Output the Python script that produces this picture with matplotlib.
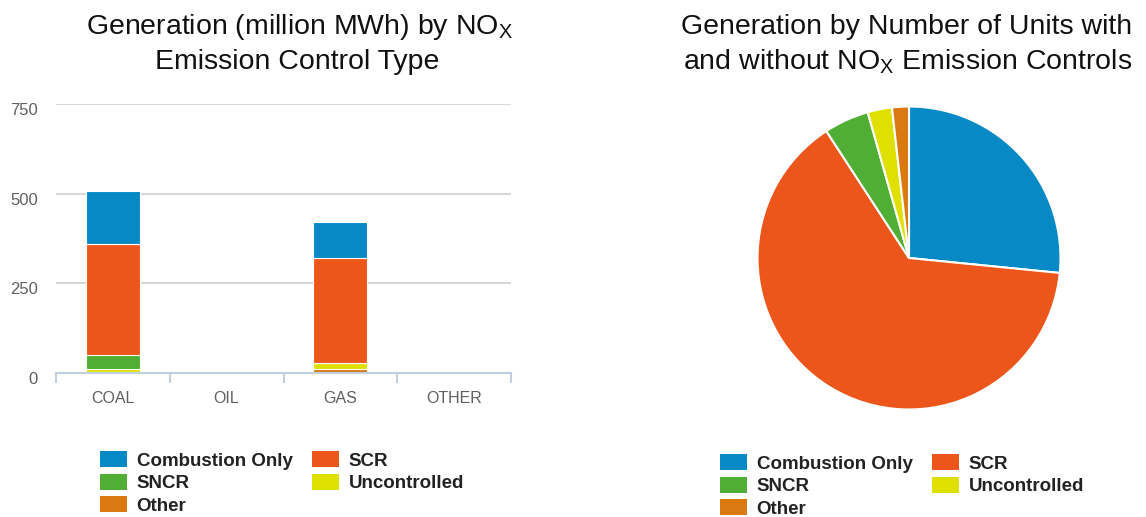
import matplotlib
matplotlib.use("Agg")
import matplotlib.pyplot as plt
from matplotlib.patches import Patch
import matplotlib.transforms as mtransforms
import numpy as np

plt.rcParams['font.family'] = ['Liberation Sans', 'DejaVu Sans']
plt.rcParams['mathtext.fontset'] = 'custom'
plt.rcParams['mathtext.rm'] = 'Liberation Sans'
plt.rcParams['mathtext.it'] = 'Liberation Sans'

# ---- data ----
categories = ["COAL", "OIL", "GAS", "OTHER"]
combustion_only = [147, 0, 100, 0]
scr = [311, 0, 293, 0]
sncr = [38, 0, 2, 0]
uncontrolled = [10, 1.5, 17, 0.8]
other = [2, 0, 10, 0.5]
y_ticks = [0, 250, 500, 750]

pie_labels = ["Combustion Only", "SCR", "SNCR", "Uncontrolled", "Other"]
pie_values = [26.6, 64.3, 4.8, 2.6, 1.8]

colors = {
    "Combustion Only": "#0789c6",
    "SCR": "#ec561b",
    "SNCR": "#4fae33",
    "Uncontrolled": "#dfe000",
    "Other": "#d9790f",
}

W, H = 1146, 517
fig = plt.figure(figsize=(W / 100, H / 100), dpi=100)

def fx(px):
    return px / W

def fy(py):
    return 1 - py / H

# ---- bar chart ----
ax = fig.add_axes([fx(56), fy(373), fx(511) - fx(56), fy(104) - fy(373)])
x = np.arange(len(categories))
stack = [("Other", other), ("Uncontrolled", uncontrolled), ("SNCR", sncr),
         ("SCR", scr), ("Combustion Only", combustion_only)]
bottom = np.zeros(len(categories))
for name, vals in stack:
    vals = np.array(vals, dtype=float)
    ax.bar(x, vals, 0.475, bottom=bottom, color=colors[name],
           edgecolor="white", linewidth=0.8, zorder=3)
    bottom += vals

ax.set_xlim(-0.5, len(categories) - 0.5)
ax.set_ylim(0, 750)
ax.set_yticks(y_ticks)
ax.set_yticklabels([str(t) for t in y_ticks])
ax.grid(axis="y", color="#d8d8d8", linewidth=1.5, zorder=0)
for s in ["top", "right", "left"]:
    ax.spines[s].set_visible(False)
ax.spines["bottom"].set_color("#c0d0e0")
ax.spines["bottom"].set_linewidth(1.5)
ax.spines["bottom"].set_zorder(4)
ax.tick_params(axis="y", length=0, pad=13, labelsize=12, labelcolor="#606060")
offset = mtransforms.ScaledTranslation(0, -5 / 100, fig.dpi_scale_trans)
for lab in ax.get_yticklabels():
    lab.set_transform(lab.get_transform() + offset)
ax.set_xticks(np.arange(-0.5, len(categories)), minor=False)
ax.set_xticklabels([""] * (len(categories) + 1))
ax.tick_params(axis="x", which="major", length=7, width=1.5, color="#c0d0e0", direction="out")
ax.set_xticks(x, minor=True)
ax.set_xticklabels(categories, minor=True)
ax.tick_params(axis="x", which="minor", length=0, pad=13, labelsize=11.5, labelcolor="#606060")

# ---- pie chart ----
r = 153
cx, cy = 909, 258
pax = fig.add_axes([fx(cx - r), fy(cy + r), fx(2 * r), fy(cy - r) - fy(cy + r)])
pax.pie(pie_values, colors=[colors[l] for l in pie_labels], startangle=90,
        counterclock=False, radius=1,
        wedgeprops=dict(edgecolor="white", linewidth=1.5))
pax.set_xlim(-1.01, 1.01)
pax.set_ylim(-1.01, 1.01)
pax.set_aspect("auto")
pax.axis("off")

# ---- titles ----
tfs = 20.5
tc = "#111111"
fig.text(fx(299), fy(34), r"Generation (million MWh) by NO$_{\mathrm{X}}$",
         ha="center", va="baseline", fontsize=tfs, color=tc)
fig.text(fx(297), fy(69), "Emission Control Type",
         ha="center", va="baseline", fontsize=tfs, color=tc)
fig.text(fx(907), fy(34), "Generation by Number of Units with",
         ha="center", va="baseline", fontsize=tfs, color=tc)
fig.text(fx(908), fy(69), r"and without NO$_{\mathrm{X}}$ Emission Controls",
         ha="center", va="baseline", fontsize=tfs, color=tc)

# ---- legends ----
order = ["Combustion Only", "SNCR", "Other", "SCR", "Uncontrolled"]
handles = [Patch(facecolor=colors[n], edgecolor="none") for n in order]

def add_legend(x0, y0):
    leg = fig.legend(handles, order, loc="upper left",
                     bbox_to_anchor=(fx(x0), fy(y0)), ncol=2, frameon=False,
                     prop=dict(weight="bold", size=13.5), handlelength=1.45,
                     handleheight=0.95, handletextpad=0.5, columnspacing=1.05,
                     labelspacing=0.22, borderpad=0, borderaxespad=0)
    for t in leg.get_texts():
        t.set_color("#222222")
    return leg

add_legend(100, 451)
add_legend(720, 454)

fig.savefig("out.png", dpi=100)
